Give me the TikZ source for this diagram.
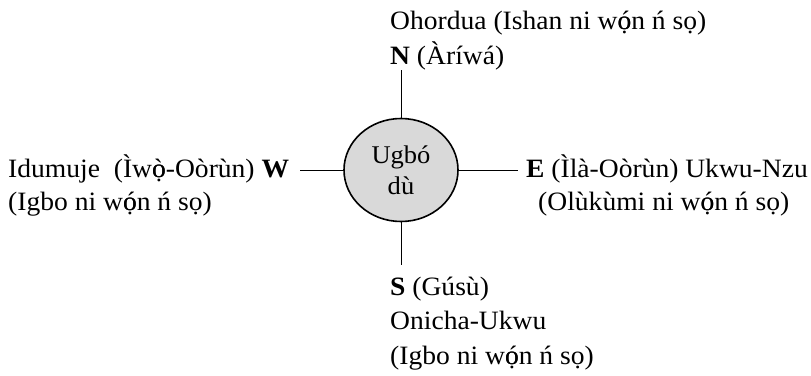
\documentclass[tikz,border=0pt]{standalone}
\usepackage{fontspec}
\setmainfont[FakeStretch=1.04]{Liberation Serif}
\usetikzlibrary{shapes.geometric}
\definecolor{CGrayTown}{HTML}{D9D9D9}
\newcommand{\oacdot}{\ooalign{ó\cr ọ\cr}}
\newcommand{\ogrdot}{\ooalign{ò\cr ọ\cr}}

\begin{document}
\begin{tikzpicture}[x=1pt, y=-1pt,
    lbl/.style={anchor=base west, inner sep=0pt, font=\fontsize{26.5}{35}\selectfont},
    town/.style={draw, line width=1.6pt, ellipse, fill=CGrayTown, minimum width=114pt,
      minimum height=103pt, inner sep=0pt, align=center, font=\fontsize{25.5}{31}\selectfont},
    arm/.style={line width=1pt}
]
  \useasboundingbox (0,0) rectangle (811,375);
  \node[town] (town) at (401,170) {\raisebox{-3pt}{Ugbó}\\\raisebox{-3pt}{dù}};
  \coordinate (nEnd) at (401,70);
  \coordinate (sEnd) at (401,265);
  \coordinate (wEnd) at (300,170);
  \coordinate (eEnd) at (518,170);
  \draw[arm] (town) -- (nEnd);
  \draw[arm] (town) -- (sEnd);
  \draw[arm] (town) -- (wEnd);
  \draw[arm] (town) -- (eEnd);

  \node[lbl] (n1) at (390,29) {Ohordua (Ishan ni w\oacdot{}n ń sọ)};
  \node[lbl] (n2) at (390,64) {\textbf{N} (Àríwá)};
  \node[lbl] (w1) at (8,177) {Idumuje\ \ (Ìw\ogrdot{}-Oòrùn) \textbf{W}};
  \node[lbl] (w2) at (8,210) {(Igbo ni w\oacdot{}n ń sọ)};
  \node[lbl, anchor=base east] (e1) at (808,177) {\textbf{E} (Ìlà-Oòrùn) Ukwu-Nzu};
  \node[lbl] (e2) at (538,210) {(Olùkùmi ni w\oacdot{}n ń sọ)};
  \node[lbl] (s1) at (390,295) {\textbf{S} (Gúsù)};
  \node[lbl] (s2) at (390,329) {Onicha-Ukwu};
  \node[lbl] (s3) at (390,364) {(Igbo ni w\oacdot{}n ń sọ)};
\end{tikzpicture}
\end{document}
